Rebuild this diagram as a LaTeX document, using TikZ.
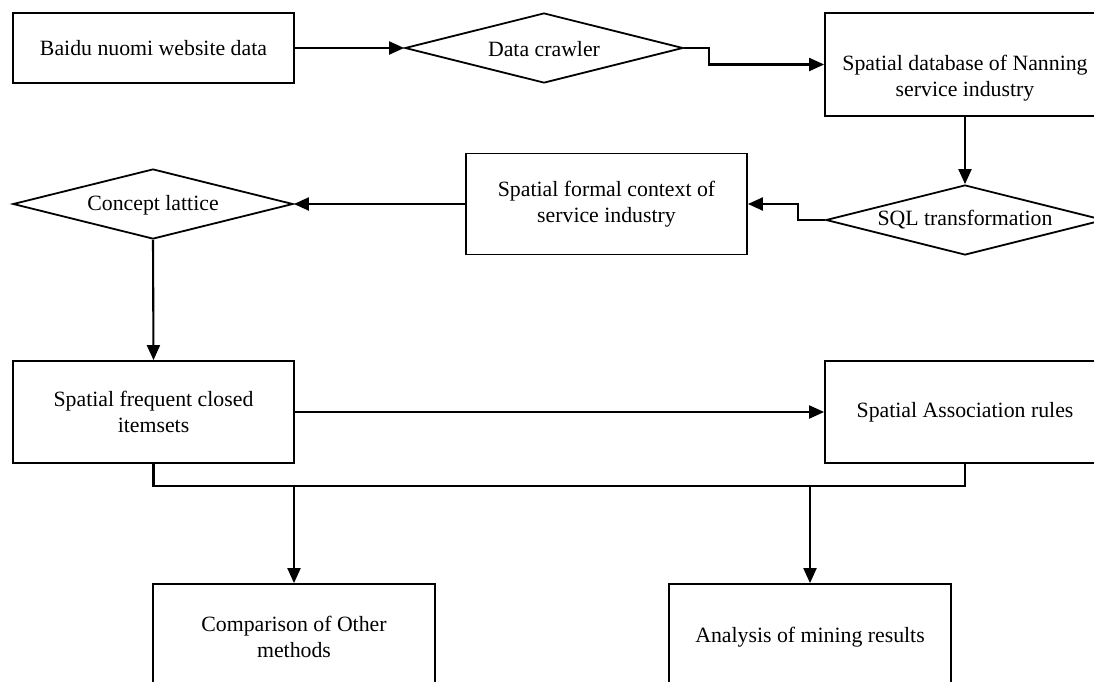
\documentclass[tikz,border=0pt]{standalone}
\usepackage{fontspec}
\setmainfont{Liberation Serif}
\usetikzlibrary{shapes.geometric,arrows.meta}
\begin{document}
\begin{tikzpicture}[x=1pt,y=-1pt,
  every node/.style={font=\fontsize{21.8}{26.5}\selectfont},
  box/.style={draw,line width=1.8pt,rectangle,inner sep=0pt,align=center,minimum width=281pt},
  dia/.style={draw,line width=1.8pt,diamond,inner sep=0pt,minimum width=278pt,minimum height=70pt},
  txt/.style={inner sep=0pt,align=center},
  conn/.style={line width=2.1pt},
  arr/.style={line width=2.1pt,-{Triangle[length=15pt,width=13pt]}}]
\useasboundingbox (0,0) rectangle (1094,681);
\clip (0,0) rectangle (1094,681);
% nodes
\node[box,minimum height=70pt] (baidu) at (153.5,48) {Baidu nuomi website data};
\node[dia] (crawl) at (544,48) {};
\node[txt] (crawlt) at (544,49) {Data crawler};
\node[box,minimum height=103pt,minimum width=280pt] (db) at (965,64.5) {};
\node[txt] (dbt) at (965,78) {Spatial database of Nanning\\service industry};
\node[dia] (sql) at (965,220) {};
\node[txt] (sqlt) at (965,220) {SQL transformation};
\node[box,minimum height=101pt] (formal) at (606.5,204) {Spatial formal context of\\service industry};
\node[dia,minimum width=280pt] (concept) at (153,204) {};
\node[txt] (conceptt) at (153,205) {Concept lattice};
\node[box,minimum height=102pt] (sfci) at (153.5,412) {Spatial frequent closed\\itemsets};
\node[box,minimum height=102pt,minimum width=280pt] (sar) at (965,412) {Spatial Association rules};
\node[box,minimum height=106pt,minimum width=282pt] (comp) at (294,637) {Comparison of Other\\methods};
\node[box,minimum height=106pt,minimum width=282pt] (ana) at (810,637) {Analysis of mining results};
% bus coordinates
\coordinate (busL) at (153.5,486);
\coordinate (b1) at (294,486);
\coordinate (b2) at (810,486);
% connectors
\draw[arr] (baidu.east) -- (crawl.west);
\draw[arr] (crawl.east) -- ++(25,0) |- (db.west);
\draw[arr] (db.south) -- (sql.north);
\draw[arr] (sql.west) -- ++(-27,0) |- (formal.east);
\draw[arr] (formal.west) -- (concept.east);
\draw[arr] (concept.south) -- (sfci.north);
\draw[arr] (sfci.east) -- (sar.west);
\draw[conn] (sfci.south) -- (busL) -| (sar.south);
\draw[arr] (b1) -- (comp.north);
\draw[arr] (b2) -- (ana.north);
\end{tikzpicture}
\end{document}
